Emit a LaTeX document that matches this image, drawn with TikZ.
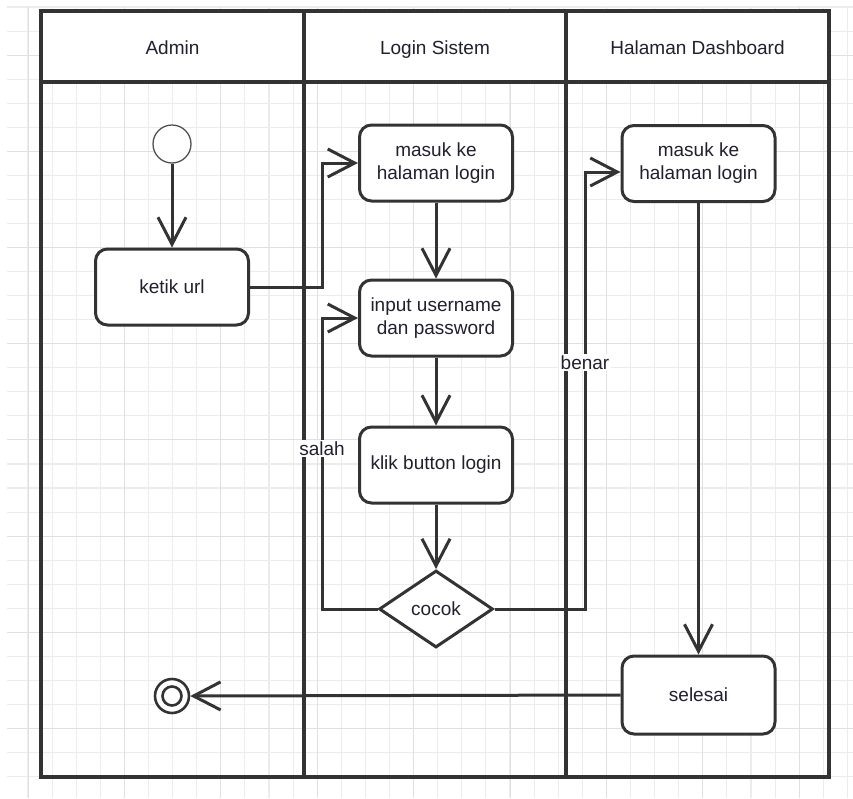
\documentclass[tikz,border=0pt]{standalone}
\usepackage{fontspec}
\setmainfont{Liberation Sans}
\usetikzlibrary{arrows.meta,shapes.geometric,calc}

\definecolor{ink}{HTML}{333333}
\definecolor{gridminor}{HTML}{ECECEC}
\definecolor{gridmajor}{HTML}{E0E0E0}
\definecolor{txt}{HTML}{202030}

\tikzset{
  lbltext/.style={font=\fontsize{19}{23}\selectfont, text=txt},
  action/.style={lbltext, draw=ink, line width=3pt, rounded corners=12pt,
    fill=white, minimum width=153pt, minimum height=76pt, align=center, inner sep=0pt},
  decision/.style={lbltext, diamond, draw=ink, line width=3pt, fill=white,
    minimum width=114pt, minimum height=77pt, aspect=1.48, inner sep=0pt},
  initial/.style={circle, draw=ink!85, line width=1.3pt, fill=white,
    minimum size=38pt, inner sep=0pt},
  finalring/.style={circle, draw=ink, line width=2.6pt, fill=white, inner sep=0pt},
  flow/.style={draw=ink, line width=3pt, line join=miter,
    -{Straight Barb[length=27pt,width=28pt]}},
  guard/.style={lbltext, fill=white, inner sep=1.5pt},
  lane/.style={draw=ink, line width=3.5pt},
  lanehead/.style={lbltext, text height=13.8pt, text depth=4pt, inner sep=0pt}
}

\begin{document}
\begin{tikzpicture}[x=1pt,y=-1pt]
\useasboundingbox (0,0) rectangle (853,798);
\fill[white] (0,0) rectangle (853,798);

% background grid
\foreach \i in {0,...,34}
  \draw[gridminor, line width=1.1pt] ({28+24.1*\i},7) -- ({28+24.1*\i},798);
\foreach \j in {0,...,32}
  \draw[gridminor, line width=1.1pt] (7,{7+24.05*\j}) -- (853,{7+24.05*\j});
\foreach \i in {0,...,8}
  \draw[gridmajor, line width=1pt] ({28+96.4*\i},7) -- ({28+96.4*\i},798);
\foreach \j in {0,...,7}
  \draw[gridmajor, line width=1pt] (7,{55.1+96.2*\j}) -- (853,{55.1+96.2*\j});

% swimlanes
\fill[white] (41,11) rectangle (829,82);
\draw[lane] (41,11) rectangle (829,777);
\draw[lane] (41,82) -- (829,82);
\draw[lane] (304,11) -- (304,777);
\draw[lane] (566,11) -- (566,777);
\node[lanehead] (hAdmin) at (172.5,49.5) {Admin};
\node[lanehead] (hLogin) at (435,49.5) {Login Sistem};
\node[lanehead] (hDash) at (697.5,49.5) {Halaman Dashboard};

% activity nodes
\node[initial] (start) at (172,144) {};
\node[action] (ketik) at (172,287) {ketik url};
\node[action] (masukA) at (436,163) {masuk ke\\halaman login};
\node[action] (input) at (436,318) {input username\\dan password};
\node[action] (klik) at (436,465) {klik button login};
\node[decision] (cocok) at (436,609) {cocok};
\node[action] (masukB) at (698.5,163.5) {masuk ke\\halaman login};
\node[action, minimum height=78pt] (selesai) at (698.5,695) {selesai};
\node[finalring, minimum size=34pt] (final) at (172,696) {};
\node[finalring, minimum size=19pt] (finalin) at (172,696) {};

% routing columns for the bent connectors
\coordinate (colL) at (322,0);
\coordinate (colR) at (585,0);

% control flow
\draw[flow] (start.south) -- (ketik.north);
\draw[flow] (ketik.east) -- (ketik.east -| colL) |- (masukA.west);
\draw[flow] (masukA.south) -- (input.north);
\draw[flow] (input.south) -- (klik.north);
\draw[flow] (klik.south) -- (cocok.north);
\draw[flow] (cocok.west) -- (cocok.west -| colL)
  -- node[guard, pos=0.55] (salah) {salah} (colL |- input.west) -- (input.west);
\draw[flow] (cocok.east) -- (cocok.east -| colR)
  -- node[guard, pos=0.563] (benar) {benar} ($(colR |- masukB.west)+(0,8.5)$)
  -- ($(masukB.west)+(0,8.5)$);
\draw[flow] (masukB.south) -- (selesai.north);
\draw[flow] (selesai.west) -- (final.east);
\end{tikzpicture}
\end{document}
